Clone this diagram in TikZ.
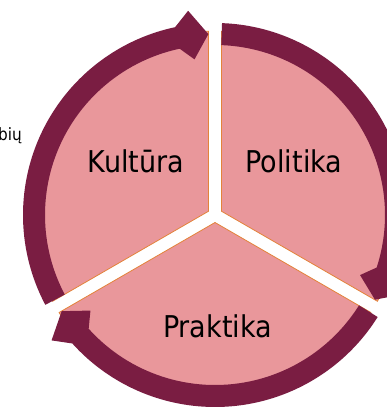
\documentclass[tikz,border=0pt]{standalone}
\usepackage{fontspec}
\setmainfont{DejaVu Sans Condensed}
\definecolor{ringcol}{HTML}{7A1D42}
\definecolor{segcol}{HTML}{E9979B}
\definecolor{edgecol}{HTML}{E3833A}
\begin{document}
\begin{tikzpicture}[x=1pt,y=1pt,
    segment/.style={fill=segcol,draw=edgecol,line width=0.8pt},
    ring/.style={fill=ringcol},
    label/.style={font=\fontsize{30}{32}\selectfont,text=black,anchor=base}]
  \useasboundingbox (-215,-194) rectangle (171,215);
  % the three segments
  \filldraw[segment,shift={(150:7.5)}] (0,0) -- (90:180) arc[start angle=90,end angle=210,radius=180] -- cycle;
  \filldraw[segment,shift={(30:7.5)}] (0,0) -- (-30:180) arc[start angle=-30,end angle=90,radius=180] -- cycle;
  \filldraw[segment,shift={(270:7.5)}] (0,0) -- (210:180) arc[start angle=210,end angle=330,radius=180] -- cycle;
  % arrows round the circle
  \fill[ring] (207.9:192) arc[start angle=207.9,end angle=102,radius=192] -- (97.5:206) -- (92.1:181) -- (97.5:157) -- (102:170) arc[start angle=102,end angle=207.9,radius=170] -- cycle;
  \fill[ring] (87.9:192) arc[start angle=87.9,end angle=-18,radius=192] -- (-22.5:206) -- (-27.9:181) -- (-22.5:157) -- (-18:170) arc[start angle=-18,end angle=87.9,radius=170] -- cycle;
  \fill[ring] (-32.1:192) arc[start angle=-32.1,end angle=-138,radius=192] -- (-142.5:206) -- (-147.9:181) -- (-142.5:157) -- (-138:170) arc[start angle=-138,end angle=-32.1,radius=170] -- cycle;
  % texts
  \node[label] (kultura) at (-79,42) {Kultūra};
  \node[label] (politika) at (79,42) {Politika};
  \node[label] (praktika) at (2.5,-122) {Praktika};
  \node[font=\fontsize{17}{19}\selectfont,anchor=base east,inner sep=0pt] (side) at (-193,74) {bių};
\end{tikzpicture}
\end{document}
